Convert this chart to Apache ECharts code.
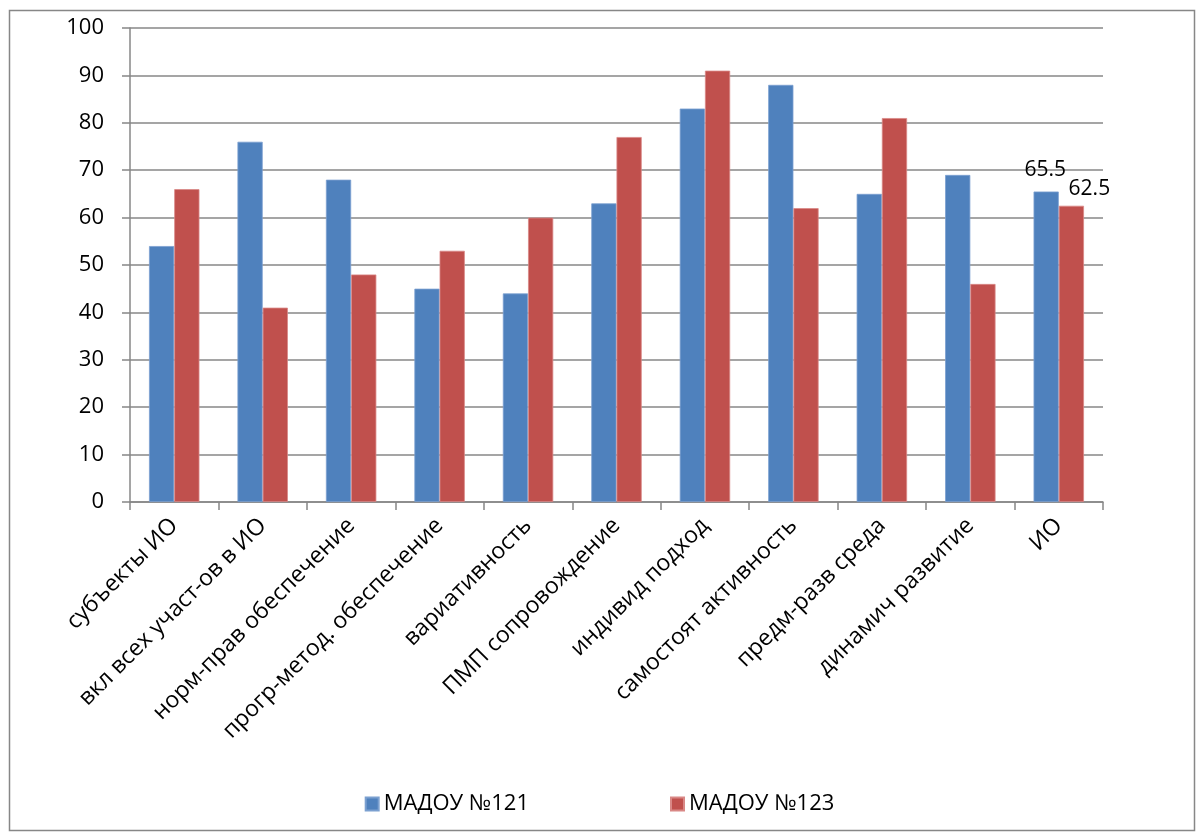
<!DOCTYPE html>
<html>
<head>
<meta charset="utf-8">
<script src="https://cdn.jsdelivr.net/npm/echarts@6/dist/echarts.min.js"></script>
<style>
  html, body { margin: 0; padding: 0; background: #ffffff; }
  #chart { width: 1199px; height: 835px; }
</style>
</head>
<body>
<div id="chart"></div>
<script>
// Categories of the evaluation
const categories = [
  'субъекты ИО',
  'вкл всех участ-ов в ИО',
  'норм-прав обеспечение',
  'прогр-метод. обеспечение',
  'вариативность',
  'ПМП сопровождение',
  'индивид подход',
  'самостоят активность',
  'предм-разв среда',
  'динамич развитие',
  'ИО'
];

// Scores per kindergarten
const seriesNames = ['МАДОУ №121', 'МАДОУ №123'];
const madou121 = [54, 76, 68, 45, 44, 63, 83, 88, 65, 69, 65.5];
const madou123 = [66, 41, 48, 53, 60, 77, 91, 62, 81, 46, 62.5];

// Value axis range
const yMin = 0;
const yMax = 100;
const yStep = 10;

const FONT = 'Open Sans';
const GRID_COLOR = '#878787';

// Only the summary category carries value labels
function buildData(values, labelOffset) {
  const last = values.length - 1;
  return values.map((v, i) => i === last
    ? { value: v, label: { show: true, position: 'top', offset: labelOffset,
        fontFamily: FONT, fontSize: 21, color: '#000' } }
    : v);
}

const chart = echarts.init(document.getElementById('chart'), null, { renderer: 'canvas' });

chart.setOption({
  backgroundColor: '#ffffff',
  animation: false,
  graphic: [{
    type: 'rect',
    shape: { x: 9.5, y: 10.5, width: 1185, height: 820 },
    style: { fill: 'none', stroke: GRID_COLOR, lineWidth: 1.5 },
    silent: true,
    z: -1
  }],
  grid: { left: 130, right: 96, top: 28, bottom: 333, containLabel: false },
  legend: {
    top: 788,
    left: 'center',
    itemWidth: 13,
    itemHeight: 13,
    itemGap: 141,
    icon: 'rect',
    textStyle: { fontFamily: FONT, fontSize: 22, color: '#000' },
    data: seriesNames
  },
  xAxis: {
    type: 'category',
    data: categories,
    axisLine: { lineStyle: { color: GRID_COLOR, width: 1.5 } },
    axisTick: { show: true, alignWithLabel: false, length: 8, lineStyle: { color: GRID_COLOR, width: 1.5 } },
    axisLabel: { rotate: 45, margin: 20, interval: 0, fontFamily: FONT, fontSize: 23, color: '#000' }
  },
  yAxis: {
    type: 'value',
    min: yMin,
    max: yMax,
    interval: yStep,
    axisLine: { show: true, lineStyle: { color: GRID_COLOR, width: 1.5 } },
    axisTick: { show: true, length: 8, lineStyle: { color: GRID_COLOR, width: 1.5 } },
    axisLabel: { margin: 26, fontFamily: FONT, fontSize: 22, color: '#000' },
    splitLine: { show: true, lineStyle: { color: GRID_COLOR, width: 1.5 } }
  },
  series: [
    {
      name: seriesNames[0],
      type: 'bar',
      data: buildData(madou121, [-1, -6]),
      barGap: '0%',
      barCategoryGap: '43%',
      itemStyle: { color: '#4F81BD', borderColor: '#7BA0D0', borderWidth: 0.8 }
    },
    {
      name: seriesNames[1],
      type: 'bar',
      data: buildData(madou123, [18, -1]),
      itemStyle: { color: '#C0504D', borderColor: '#D98886', borderWidth: 0.8 }
    }
  ]
});
</script>
</body>
</html>
